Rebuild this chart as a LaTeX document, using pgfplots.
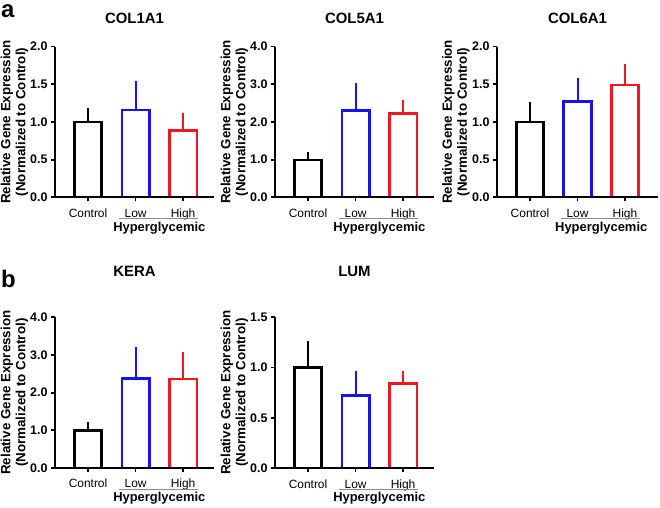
\documentclass[border=0pt]{standalone}
\usepackage{fontspec}
\setmainfont{Liberation Sans}
\usepackage{pgfplots}
\pgfplotsset{compat=1.18}

\definecolor{pblue}{RGB}{20,20,235}
\definecolor{pred}{RGB}{238,24,30}

\newcommand\hyper{%
  \draw[black!45, line width=0.8bp] ([yshift=-21bp]axis cs:0.66,0) -- ([yshift=-21bp]axis cs:2.32,0);
  \node[anchor=base, font=\bfseries\fontsize{13}{13}\selectfont] at ([yshift=-34bp]axis cs:1.5,0) {Hyperglycemic};}

\pgfplotsset{
  panel/.style={
    scale only axis, width=159bp, height=150.7bp,
    xmin=-0.695, xmax=2.65, ymin=0,
    axis x line=bottom, axis y line=left,
    axis line style={-, line width=2bp},
    tick style={line width=1.8bp, black},
    tick align=outside, major tick length=4bp,
    axis on top,
    xtick={0,1,2}, xticklabels={Control,Low,High},
    xticklabel style={anchor=base, yshift=-16bp, font=\fontsize{12}{12}\selectfont},
    yticklabel style={font=\bfseries\fontsize{12.5}{12.5}\selectfont},
    /pgf/number format/assume math mode=true,
    y tick label style={/pgf/number format/.cd, fixed, fixed zerofill, precision=1},
    ylabel={Relative Gene Expression\\(Normalized to Control)},
    ylabel style={at={(axis description cs:-0.255,0.5)}, anchor=center, rotate=0,
      align=center, font=\bfseries\fontsize{13.4}{15.2}\selectfont},
    title style={at={(0.5,1)}, anchor=base, yshift=17bp, font=\bfseries\fontsize{15}{15}\selectfont},
    after end axis/.code={\hyper},
  },
  hbar/.style={ybar, bar width=27.5bp, bar shift=0pt, fill=white, draw=#1, line width=2.6bp,
    error bars/.cd, y dir=plus, y explicit, error mark=none,
    error bar style={line width=2bp, #1}},
}

\begin{document}
\begin{tikzpicture}
\useasboundingbox (0,0) rectangle (660bp,508bp);

\node[inner sep=0pt, anchor=base west, font=\bfseries\fontsize{24}{24}\selectfont] at (1bp,490bp) {a};
\node[inner sep=0pt, anchor=base west, font=\bfseries\fontsize{24}{24}\selectfont] at (1bp,220bp) {b};

% COL1A1
\begin{axis}[panel, at={(55bp,310.7bp)}, anchor=south west, ymax=2,
  ytick={0,0.5,1,1.5,2}, title={COL1A1}]
\addplot[hbar=black] coordinates {(0,1.00) +- (0,0.19)};
\addplot[hbar=pblue] coordinates {(1,1.16) +- (0,0.39)};
\addplot[hbar=pred] coordinates {(2,0.89) +- (0,0.23)};
\end{axis}

% COL5A1
\begin{axis}[panel, at={(275bp,310.7bp)}, anchor=south west, ymax=4,
  ytick={0,1,2,3,4}, title={COL5A1}]
\addplot[hbar=black] coordinates {(0,0.99) +- (0,0.20)};
\addplot[hbar=pblue] coordinates {(1,2.31) +- (0,0.72)};
\addplot[hbar=pred] coordinates {(2,2.22) +- (0,0.36)};
\end{axis}

% COL6A1
\begin{axis}[panel, at={(497bp,310.7bp)}, anchor=south west, width=161bp, xmax=2.695, ymax=2,
  ytick={0,0.5,1,1.5,2}, title={COL6A1}]
\addplot[hbar=black] coordinates {(0,1.00) +- (0,0.26)};
\addplot[hbar=pblue] coordinates {(1,1.27) +- (0,0.31)};
\addplot[hbar=pred] coordinates {(2,1.49) +- (0,0.28)};
\end{axis}

% KERA
\begin{axis}[panel, at={(55bp,40bp)}, anchor=south west, ymax=4,
  ytick={0,1,2,3,4}, title={KERA}, title style={yshift=18bp}]
\addplot[hbar=black] coordinates {(0,0.99) +- (0,0.23)};
\addplot[hbar=pblue] coordinates {(1,2.38) +- (0,0.84)};
\addplot[hbar=pred] coordinates {(2,2.36) +- (0,0.73)};
\end{axis}

% LUM
\begin{axis}[panel, at={(275bp,40bp)}, anchor=south west, ymax=1.5,
  ytick={0,0.5,1,1.5}, title={LUM}, title style={yshift=18bp}]
\addplot[hbar=black] coordinates {(0,1.00) +- (0,0.26)};
\addplot[hbar=pblue] coordinates {(1,0.72) +- (0,0.25)};
\addplot[hbar=pred] coordinates {(2,0.84) +- (0,0.13)};
\end{axis}
\end{tikzpicture}
\end{document}
